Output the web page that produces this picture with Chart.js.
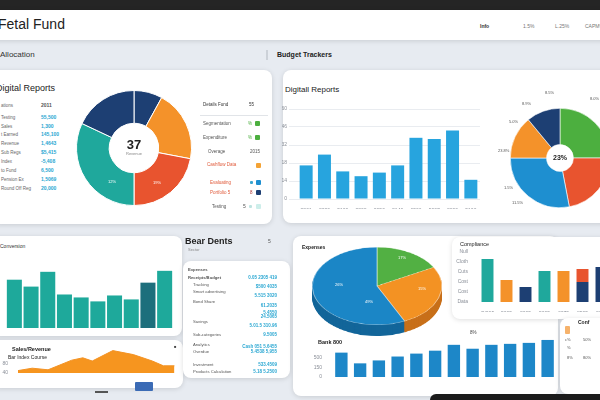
<!DOCTYPE html>
<html>
<head>
<meta charset="utf-8">
<script src="https://cdn.jsdelivr.net/npm/chart.js@4.4.0/dist/chart.umd.min.js"></script>
<style>
  body { margin: 0; width: 600px; height: 400px; overflow: hidden; background: #e7ebf1; font-family: "Liberation Sans", Arial, sans-serif; position: relative; }
  .p { position: absolute; background: #fff; border-radius: 8px; box-shadow: 0 1px 5px rgba(0,0,0,.13); }
  .t { position: absolute; white-space: nowrap; line-height: 1; }
  canvas { position: absolute; }
</style>
</head>
<body>
<div style="position:absolute;left:0;top:0;width:600px;height:10px;background:#252525"></div>
<div class="p" style="left:-10px;top:10px;width:620px;height:30px;border-radius:0"></div>
<div style="position:absolute;left:266px;top:50px;width:2px;height:10px;background:#ccd1d8"></div>
<div class="p" style="left:-10px;top:70px;width:282px;height:154px"></div>
<div class="p" style="left:283px;top:70px;width:330px;height:153px"></div>
<div class="p" style="left:-10px;top:236px;width:192px;height:100px"></div>
<div class="p" style="left:-10px;top:340px;width:193px;height:48px"></div>
<div class="p" style="left:183px;top:261px;width:107px;height:117px"></div>
<div class="p" style="left:293px;top:236px;width:265px;height:160px"></div>
<div class="p" style="left:452px;top:237px;width:160px;height:82px"></div>
<div class="p" style="left:560px;top:318px;width:50px;height:76px"></div>
<div style="position:absolute;left:200px;top:115px;width:68px;height:1px;background:#e1e4e8"></div>
<div style="position:absolute;left:135px;top:382px;width:18px;height:9px;background:#3b6bb5;border-radius:1px"></div>
<div style="position:absolute;left:95px;top:391px;width:13px;height:2px;background:#555"></div>
<div style="position:absolute;left:430px;top:394px;width:180px;height:8px;background:#1c1c1c;border-radius:6px 0 0 0"></div>

<script>
// ---- data ----
// top-left donut (Digital Reports)
const donutLabels = ['Navy A', 'Orange', 'Red', 'Teal', 'Navy B'];
const donutValues = [8, 20, 22, 32, 18];
const reportRows = ['ations', 'Testing', 'Sales', 't Earned', 'Revenue', 'Sub Regs', 'Index', 'to Fund', 'Pension Ex', 'Round Off Reg'];
const reportVals = ['2011', '55,500', '1,300', '145,100', '1,4643', '$5,415', '-5,408', '6,500', '1,5069', '20,000'];

// top-right bars + pie
const trendYears = ['2201', '2020', '5100', '2208', '2050', '2140', '6506', '5007', '2800', '5100'];
const trendValues = [28, 37, 23, 19, 22, 28, 51, 50, 57, 16];
const trendTicks = ['0', '14', '18', '32', '46', '60'];
const shareLabels = ['Green', 'Red', 'Blue', 'Orange', 'Navy'];
const shareValues = [25, 22, 28, 14, 11];

// conversion bars
const convLabels = ['400', '5000', '5100', '4400', '2020', '3605', '3005', '2800', '5400', '3300'];
const convValues = [49, 42, 57, 34, 31, 27, 33, 29, 46, 58];
const convTicks = ['0', '0', '0', '0', '0'];

// sales area
const salesX = [0, 9, 19, 34, 41, 47, 60, 73, 85, 92, 99];
const salesY = [3, 6, 4, 16, 19, 15, 28, 23, 15, 9, 9];
const salesTicks = ['40', '80'];

// expenses 3d pie
const expLabels = ['Green', 'Orange', 'Blue'];
const expValues = [17, 26, 57];

// compliance
const compLabels = ['OO05', '5005', '2005', '5005', '3075', '8505', '2005'];
const compBase = [43, 22, 15, 31, 31, 20, 35];
const compTop = [0, 0, 0, 0, 0, 13, 0];
const compTicks = ['Data', 'Cost', 'Cost', 'Cuts', 'Cloth', 'Null'];

// bank bars
const bankLabels = ['5.59', '2205', '2025', '5125', '3525', '7505', '5005', '5005', '5005', '5005', '1425', '4025'];
const bankValues = [25, 14, 17, 21, 24, 27, 33, 29, 33, 34, 35, 38];
const bankTicks = ['0', '150', '500'];

const NAVY = '#1d3f73', ORANGE = '#f4922a', RED = '#e8542f', TEAL = '#1fa89c', GREEN = '#4caf3f', BLUE = '#1e8fd0';

Chart.defaults.animation = false;
Chart.defaults.responsive = false;
Chart.defaults.plugins.legend.display = false;
Chart.defaults.plugins.tooltip.enabled = false;
Chart.defaults.font.family = 'Liberation Sans';
Chart.defaults.font.size = 5;
Chart.defaults.color = '#8a8f98';

function cv(x, y, w, h, css) {
  const c = document.createElement('canvas');
  c.width = w; c.height = h;
  c.style.left = x + 'px'; c.style.top = y + 'px';
  if (css) c.style.cssText += css;
  document.body.appendChild(c);
  return c;
}

function put(x, y, s, size, color, weight, align) {
  const d = document.createElement('div');
  d.className = 't';
  d.textContent = s;
  d.style.left = x + 'px';
  d.style.top = (y - size * 0.55) + 'px';
  d.style.fontSize = size + 'px';
  d.style.color = color || '#333';
  if (weight) d.style.fontWeight = weight;
  if (align === 'c') d.style.transform = 'translateX(-50%)';
  if (align === 'r') d.style.transform = 'translateX(-100%)';
  document.body.appendChild(d);
}

function box(x, y, w, h, color) {
  const d = document.createElement('div');
  d.style.cssText = `position:absolute;left:${x}px;top:${y}px;width:${w}px;height:${h}px;background:${color};border-radius:1px`;
  document.body.appendChild(d);
}

function bars(canvas, labels, datasets, o) {
  return new Chart(canvas, {
    type: 'bar',
    data: { labels, datasets },
    options: {
      layout: { padding: o.pad || 0 },
      scales: {
        x: { stacked: !!o.stacked, grid: { display: false }, border: { display: false },
             ticks: { padding: 1, maxRotation: 0, autoSkip: false }, afterFit: s => { s.height = o.xh; } },
        y: { stacked: !!o.stacked, min: 0, max: o.max, grid: { display: !!o.grid, color: '#e9ecf0' }, border: { display: false },
             ticks: { stepSize: o.step, padding: 2, callback: (v, i) => o.yt[i] }, afterFit: s => { s.width = o.yw; } }
      }
    }
  });
}

// ---- donut: Digital Reports ----
new Chart(cv(76, 90, 116, 116), {
  type: 'doughnut',
  data: { labels: donutLabels, datasets: [{ data: donutValues, backgroundColor: [NAVY, ORANGE, RED, TEAL, NAVY], borderColor: '#fff', borderWidth: 1 }] },
  options: { cutout: '43%' }
});

// ---- trend bars ----
bars(cv(282, 104, 200, 105), trendYears,
  [{ data: trendValues, backgroundColor: '#27a4de', barPercentage: 0.71, categoryPercentage: 1 }],
  { max: 75, step: 15, yt: trendTicks, yw: 15, xh: 10, grid: true, pad: { top: 4, right: 2 } });

// ---- share pie ----
new Chart(cv(510, 108, 100, 100), {
  type: 'doughnut',
  data: { labels: shareLabels, datasets: [{ data: shareValues, backgroundColor: [GREEN, RED, BLUE, ORANGE, NAVY], borderColor: '#fff', borderWidth: 0.6 }] },
  options: { cutout: '27%' }
});

// ---- conversion bars ----
bars(cv(-10, 254, 186, 82), convLabels,
  [{ data: convValues, backgroundColor: convValues.map((v, i) => i === 8 ? '#1d6f7c' : '#1ea99b'), barPercentage: 0.9, categoryPercentage: 1 }],
  { max: 70, step: 17.5, yt: convTicks, yw: 16, xh: 8, pad: { top: 4, right: 3 } });

// ---- sales area ----
new Chart(cv(-2, 344, 182, 34), {
  type: 'line',
  data: { datasets: [{ data: salesX.map((x, i) => ({ x, y: salesY[i] })), borderColor: '#f39325', backgroundColor: '#f6951f', fill: 'origin', pointRadius: 0, borderWidth: 1, tension: 0 }] },
  options: {
    layout: { padding: { top: 4, right: 4 } },
    scales: {
      x: { type: 'linear', min: 0, max: 100, display: false },
      y: { min: 0, max: 30, grid: { display: false }, border: { display: false },
           ticks: { stepSize: 12, padding: 2, callback: (v, i) => salesTicks[i] }, afterFit: s => { s.width = 20; } }
    }
  }
});

// ---- expenses pseudo 3d pie ----
const darkCols = ['#3b8a30', '#c8701a', '#13669a'];
for (let d = 11; d >= 1; d--) {
  new Chart(cv(312, 247 + d, 130, 130, 'transform:scaleY(0.6);transform-origin:0 0'), {
    type: 'pie',
    data: { labels: expLabels, datasets: [{ data: expValues, backgroundColor: darkCols, borderWidth: 0 }] }
  });
}
new Chart(cv(312, 247, 130, 130, 'transform:scaleY(0.6);transform-origin:0 0'), {
  type: 'pie',
  data: { labels: expLabels, datasets: [{ data: expValues, backgroundColor: ['#52b043', '#f39223', '#1b86c6'], borderColor: '#fff', borderWidth: 0.5 }] }
});

// ---- compliance ----
bars(cv(455, 246, 156, 66), compLabels,
  [{ data: compBase, backgroundColor: [TEAL, ORANGE, NAVY, TEAL, ORANGE, NAVY, NAVY], barPercentage: 0.63, categoryPercentage: 1 },
   { data: compTop, backgroundColor: RED, barPercentage: 0.63, categoryPercentage: 1 }],
  { stacked: true, max: 50, step: 10, yt: compTicks, yw: 23, xh: 10, pad: { top: 6 } });

// ---- bank bars ----
bars(cv(310, 333, 247, 52), bankLabels,
  [{ data: bankValues, backgroundColor: '#1d87c8', barPercentage: 0.66, categoryPercentage: 1 }],
  { max: 40, step: 10, yt: bankTicks, yw: 22, xh: 8, pad: { top: 4 } });

// ---- texts ----
put(-2, 25, 'Fetal Fund', 14, '#222');
put(480, 27, 'Info', 5, '#333', 'bold');
put(523, 27, '1.5%', 5, '#777');
put(555, 27, 'L.25%', 5, '#777');
put(585, 27, 'CAPM%', 5, '#777');
put(0, 55, 'Allocation', 8, '#333');
put(277, 55, 'Budget Trackers', 7, '#222', 'bold');

put(-4, 89, 'Digital Reports', 9, '#222');
const rowY = [106, 118, 127, 135, 144, 153, 162, 171, 180, 189];
rowY.forEach((y, i) => {
  put(1, y, reportRows[i], 4.5, '#666');
  put(41, y, reportVals[i], 5, i === 0 ? '#555' : '#2aa7d2', 'bold');
});
put(134, 145, '37', 13, '#222', 'bold', 'c');
put(134, 154, 'Revenue', 4, '#888', null, 'c');
put(112, 182, '12%', 4, '#fff', null, 'c');
put(157, 183, '19%', 4, '#fff', null, 'c');

put(203, 105, 'Details Fund', 4.5, '#333');
put(249, 105, '55', 4.5, '#333');
put(203, 124, 'Segmentation', 4.5, '#555'); put(248, 124, '%', 4.5, '#4caf3f'); box(255, 121, 5, 5, GREEN);
put(203, 138, 'Expenditure', 4.5, '#555'); put(248, 138, '%', 4.5, '#4caf3f'); box(255, 135, 5, 5, GREEN);
put(208, 152, 'Overage', 4.5, '#555'); put(250, 152, '2015', 4.5, '#555');
put(207, 165, 'Cashflow Data', 4.5, '#e05a3a'); box(256, 163, 5, 5, '#f4a335');
put(210, 183, 'Evaluating', 4.5, '#e05a3a'); box(250, 181, 3, 3, '#3aa6d0'); box(256, 180, 5, 5, BLUE);
put(210, 193, 'Portfolio 5', 4.5, '#e05a3a'); put(250, 193, '8', 4.5, '#a33'); box(256, 190, 5, 5, NAVY);
put(212, 207, 'Testing', 4.5, '#555'); put(243, 207, '5', 5, '#555'); box(249, 205, 3, 3, '#bfe3e0'); box(256, 204, 5, 5, '#cdeeea');

put(285, 90, 'Digitall Reports', 8, '#222');
put(545, 93, '8.5%', 4, '#555'); put(522, 104, '8.9%', 4, '#555'); put(509, 122, '5.0%', 4, '#555');
put(498, 151, '23.8%', 4, '#555'); put(504, 188, '1.5%', 4, '#555'); put(512, 203, '11.5%', 4, '#555');
put(590, 99, '8.0%', 4, '#555');
put(560, 158, '23%', 7, '#222', 'bold', 'c');

put(0, 247, 'Conversion', 5, '#333');
put(12, 350, 'Sales/Revenue', 5.5, '#222', 'bold');
put(8, 358, 'Bar Index Course', 5, '#222');
put(174, 347, '■', 4, '#444');

put(185, 242, 'Bear Dents', 9, '#222', 'bold');
put(188, 250, 'Sector', 4, '#888');
put(268, 242, '5', 5, '#555');
[[270, 'Expenses', 'bold'], [278, 'Receipts/Budget', 'bold'], [285, 'Tracking'], [292, 'Smart advertising'], [302, 'Bond Share'],
 [322, 'Savings'], [335, 'Sub-categories'], [345, 'Analytics'], [352, 'Overdue'], [365, 'Investment'], [372, 'Products Calculation']]
  .forEach(r => put(r[1] === 'Expenses' || r[1] === 'Receipts/Budget' ? 188 : 193, r[0], r[1], 4.2, '#555', r[2]));
[[278, '0.05 2305 419'], [287, '$500 4035'], [296, '5.515 3020'], [306, '61.2035'], [313, '5.4550'], [317, '24.5065'],
 [326, '5.01.5 310.96'], [335, '9.5005'], [347, 'Cash 051 5.6455'], [352, '5.4538 5,955'], [365, '533.4509'], [372, '5.18 5.2500']]
  .forEach(r => put(277, r[0], r[1], 4.5, '#2aa7d2', 'bold', 'r'));

put(302, 248, 'Expenses', 5, '#222', 'bold');
put(398, 258, '17%', 4, '#fff'); put(418, 289, '15%', 4, '#fff');
put(335, 285, '26%', 4, '#fff'); put(365, 302, '49%', 4, '#fff');

put(460, 245, 'Compliance', 5.5, '#222');
put(318, 343, 'Bank 800', 5.5, '#222', 'bold');
put(470, 333, '8%', 4.5, '#444');
put(578, 323, 'Conf', 5, '#222', 'bold');
box(565, 326, 5, 8, '#f6b26b');
put(565, 340, 'c%', 4, '#555'); put(583, 340, '50%', 4, '#555');
put(567, 348, '%', 4, '#555'); put(567, 358, '8%', 4, '#555'); put(583, 358, '80%', 4, '#555');
</script>
</body>
</html>
